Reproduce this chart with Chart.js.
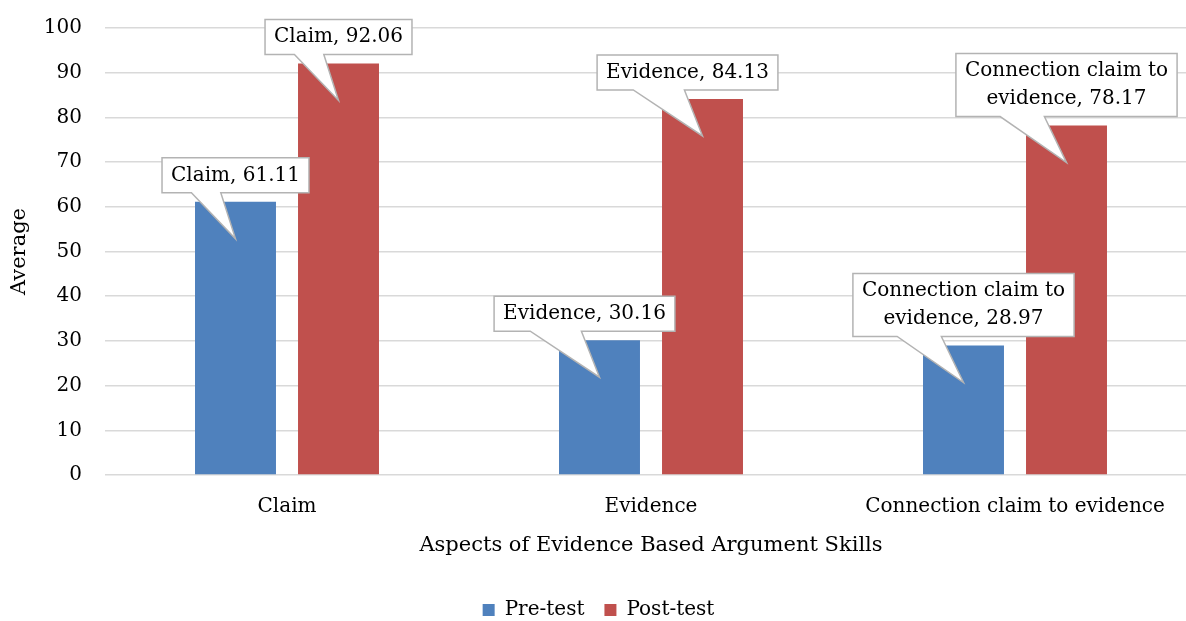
<!DOCTYPE html>
<html>
<head>
<meta charset="utf-8">
<script src="https://cdn.jsdelivr.net/npm/chart.js@4.4.0/dist/chart.umd.min.js"></script>
<style>
  html, body { margin: 0; padding: 0; background: #fff; overflow: hidden; }
  #wrap { width: 1186px; height: 621px; overflow: hidden; position: relative; }
  #box { width: 1200px; height: 621px; }
</style>
</head>
<body>
<div id="wrap"><div id="box"><canvas id="chart"></canvas></div></div>
<script>
const categories = ["Claim", "Evidence", "Connection claim to evidence"];
const preTest = [61.11, 30.16, 28.97];
const postTest = [92.06, 84.13, 78.17];
const seriesNames = ["Pre-test", "Post-test"];
// horizontal nudge of each category's callout box (px)
const calloutShift = [0, -15, 0];

const FONT = "'DejaVu Serif', serif";

// callout boxes with a pointer down to each bar
const callouts = {
  id: "callouts",
  afterDatasetsDraw(chart) {
    const ctx = chart.ctx;
    ctx.save();
    ctx.font = "20px " + FONT;
    ctx.textAlign = "center";
    ctx.textBaseline = "middle";
    chart.data.datasets.forEach((ds, di) => {
      const meta = chart.getDatasetMeta(di);
      meta.data.forEach((bar, i) => {
        const text = categories[i] + ", " + ds.data[i].toFixed(2);
        // wrap words to max width
        const words = text.split(" ");
        const lines = [];
        let cur = "";
        words.forEach(w => {
          const t = cur ? cur + " " + w : w;
          if (ctx.measureText(t).width > 215 && cur) { lines.push(cur); cur = w; }
          else cur = t;
        });
        lines.push(cur);
        const lineH = 28;
        const tw = Math.max(...lines.map(l => ctx.measureText(l).width));
        const w = tw + 18;
        const h = lines.length * lineH + 7;
        const cx = bar.x + calloutShift[i];
        const bottom = bar.y - 9;
        const top = bottom - h;
        const left = cx - w / 2, right = cx + w / 2;
        const tipX = bar.x, tipY = bar.y + 37;
        const baseL = cx - 0.3 * w;
        const baseR = baseL + 0.2 * w + (tipX - cx);
        ctx.beginPath();
        ctx.moveTo(left, top);
        ctx.lineTo(right, top);
        ctx.lineTo(right, bottom);
        ctx.lineTo(baseR, bottom);
        ctx.lineTo(tipX, tipY);
        ctx.lineTo(baseL, bottom);
        ctx.lineTo(left, bottom);
        ctx.closePath();
        ctx.fillStyle = "#ffffff";
        ctx.fill();
        ctx.lineWidth = 1.5;
        ctx.strokeStyle = "#b3b3b3";
        ctx.stroke();
        ctx.fillStyle = "#000000";
        lines.forEach((l, k) => {
          ctx.fillText(l, cx, top + 3.5 + lineH * (k + 0.5));
        });
      });
    });
    ctx.restore();
  }
};

new Chart(document.getElementById("chart"), {
  type: "bar",
  data: {
    labels: categories,
    datasets: [
      { label: seriesNames[0], data: preTest, backgroundColor: "#4f81bd" },
      { label: seriesNames[1], data: postTest, backgroundColor: "#c0504d" }
    ]
  },
  options: {
    responsive: true,
    maintainAspectRatio: false,
    animation: false,
    categoryPercentage: 0.566,
    barPercentage: 0.786,
    layout: { padding: { top: 0, right: 3, left: 0, bottom: -9 } },
    scales: {
      x: {
        grid: { display: false, drawTicks: false },
        border: { display: false },
        ticks: { color: "#000", font: { family: FONT, size: 20 }, padding: 20 },
        title: {
          display: true,
          text: "Aspects of Evidence Based Argument Skills",
          color: "#000",
          font: { family: FONT, size: 21 },
          padding: { top: 3, bottom: 22 }
        },
        afterFit(scale) { scale.height = 105; }
      },
      y: {
        min: 0,
        max: 100,
        ticks: { stepSize: 10, color: "#000", font: { family: FONT, size: 20 }, padding: 23 },
        grid: { color: "#d9d9d9", lineWidth: 1.5, drawTicks: false },
        border: { display: false },
        title: {
          display: true,
          text: "Average",
          color: "#000",
          font: { family: FONT, size: 21 },
          padding: { top: 7, bottom: 4 }
        },
        afterFit(scale) {
          scale.width = 105;
          scale.paddingTop = 28;
        }
      }
    },
    plugins: {
      legend: {
        position: "bottom",
        labels: {
          color: "#000",
          font: { family: FONT, size: 20 },
          boxWidth: 12,
          boxHeight: 12,
          padding: 20
        }
      },
      tooltip: { enabled: false }
    }
  },
  plugins: [callouts]
});
</script>
</body>
</html>
